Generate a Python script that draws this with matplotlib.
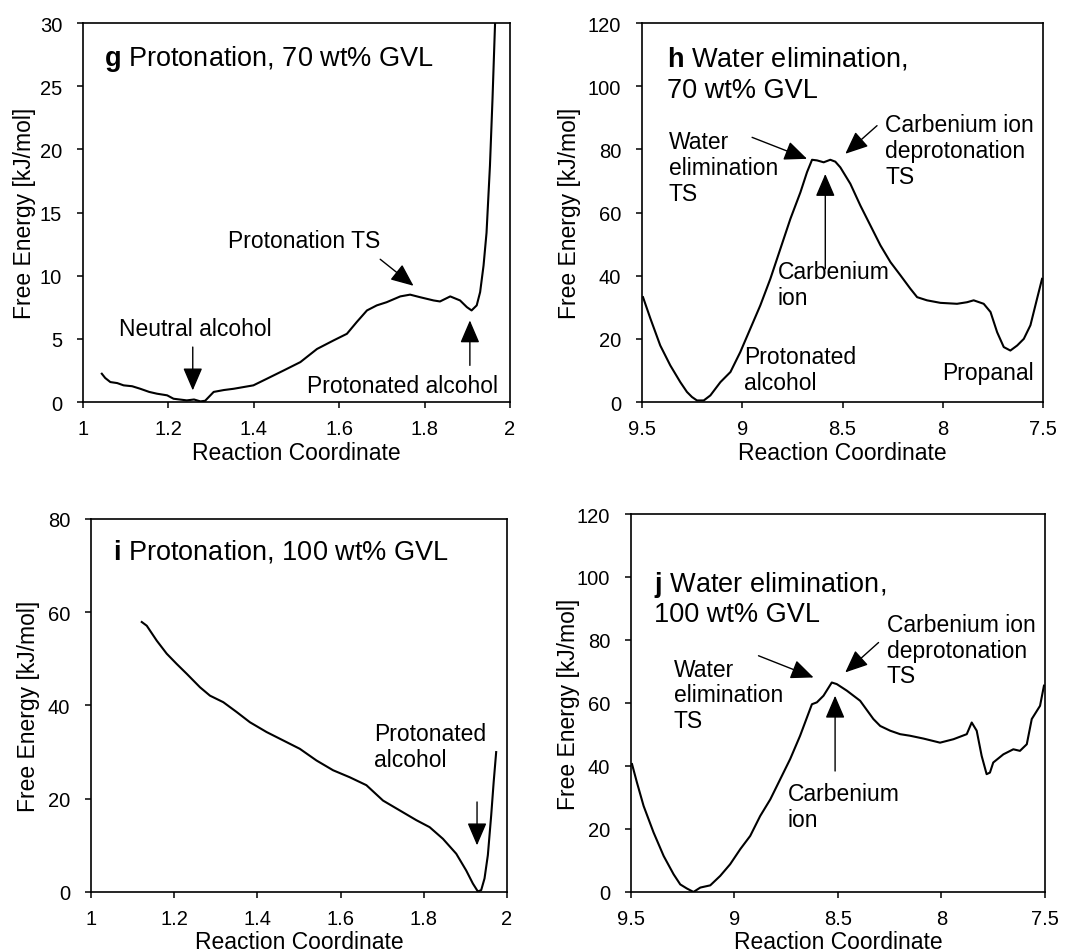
import matplotlib
matplotlib.use("Agg")
import matplotlib.pyplot as plt

plt.rcParams['font.family'] = ['Liberation Sans', 'DejaVu Sans']
plt.rcParams['mathtext.fontset'] = 'custom'
plt.rcParams['mathtext.rm'] = 'Liberation Sans'
plt.rcParams['mathtext.bf'] = 'Liberation Sans:bold'

# panel g: protonation, 70 wt% GVL
g_x = [1.044, 1.052, 1.064, 1.08, 1.095, 1.115, 1.134, 1.155, 1.173, 1.197, 1.212, 1.243, 1.26,
       1.275, 1.286, 1.306, 1.33, 1.353, 1.399, 1.431, 1.47, 1.509, 1.548, 1.587, 1.618,
       1.641, 1.665, 1.688, 1.711, 1.743, 1.766, 1.789, 1.821, 1.836, 1.86, 1.883, 1.899,
       1.91, 1.922, 1.93, 1.938, 1.945, 1.953, 1.959, 1.965, 1.968]
g_y = [2.24, 1.9, 1.58, 1.5, 1.32, 1.25, 1.05, 0.8, 0.66, 0.53, 0.26, 0.13, 0.2,
       0.05, 0.1, 0.8, 0.95, 1.05, 1.32, 1.85, 2.5, 3.16, 4.2, 4.88, 5.4,
       6.33, 7.25, 7.65, 7.9, 8.36, 8.5, 8.3, 8.04, 7.96, 8.36, 8.04, 7.51,
       7.25, 7.65, 8.7, 10.8, 13.4, 18.7, 24.0, 30.0, 35.0]

# panel h: water elimination, 70 wt% GVL
h_x = [9.495, 9.458, 9.409, 9.359, 9.309, 9.276, 9.251, 9.226, 9.192, 9.159, 9.109, 9.059,
       9.01, 8.96, 8.91, 8.86, 8.81, 8.76, 8.71, 8.677, 8.652, 8.627, 8.594, 8.561,
       8.536, 8.511, 8.461, 8.411, 8.361, 8.311, 8.261, 8.211, 8.162, 8.128, 8.079, 8.012,
       7.929, 7.879, 7.846, 7.796, 7.762, 7.729, 7.696, 7.663, 7.629, 7.596, 7.563, 7.53, 7.505]
h_y = [33.2, 26.4, 17.9, 11.6, 6.3, 3.2, 1.6, 0.5, 0.5, 2.1, 6.3, 9.5,
       15.8, 23.2, 30.6, 39.0, 48.5, 58.0, 66.4, 72.8, 76.7, 76.5, 75.9, 76.7,
       76.1, 74.3, 69.1, 62.2, 55.9, 49.6, 44.3, 40.1, 35.9, 33.2, 32.2, 31.4,
       31.1, 31.6, 32.2, 31.1, 28.5, 22.1, 17.4, 16.3, 17.9, 20.0, 24.3, 32.7, 39.0]

# panel i: protonation, 100 wt% GVL
i_x = [1.122, 1.134, 1.158, 1.182, 1.206, 1.23, 1.262, 1.286, 1.318, 1.35, 1.382, 1.422,
       1.462, 1.502, 1.542, 1.582, 1.622, 1.662, 1.702, 1.742, 1.782, 1.814, 1.846, 1.878,
       1.902, 1.918, 1.93, 1.938, 1.946, 1.954, 1.962, 1.968, 1.974]
i_y = [57.9, 57.1, 53.9, 51.1, 48.9, 46.8, 43.9, 42.1, 40.7, 38.6, 36.4, 34.3,
       32.5, 30.7, 28.2, 26.1, 24.6, 22.9, 19.6, 17.5, 15.4, 13.9, 11.4, 8.2,
       4.6, 1.8, 0.1, 0.4, 2.9, 7.9, 16.4, 23.6, 30.0]

# panel j: water elimination, 100 wt% GVL
j_x = [9.495, 9.471, 9.439, 9.391, 9.342, 9.294, 9.262, 9.23, 9.198, 9.165, 9.117, 9.069,
       9.021, 8.972, 8.924, 8.876, 8.827, 8.779, 8.731, 8.683, 8.626, 8.602, 8.57, 8.53,
       8.506, 8.457, 8.393, 8.329, 8.296, 8.248, 8.2, 8.152, 8.087, 8.007, 7.942, 7.878,
       7.854, 7.83, 7.806, 7.782, 7.766, 7.75, 7.701, 7.653, 7.621, 7.588, 7.564, 7.524, 7.505]
j_y = [40.6, 34.7, 27.3, 18.9, 11.4, 5.6, 2.4, 1.1, 0.0, 1.4, 2.1, 5.1,
       8.8, 13.6, 17.8, 24.1, 29.4, 35.8, 42.2, 49.6, 59.6, 60.2, 62.3, 66.5,
       66.0, 63.9, 60.7, 54.9, 52.7, 51.2, 50.1, 49.6, 48.7, 47.4, 48.5, 50.1,
       53.8, 51.2, 43.2, 37.4, 37.9, 41.1, 43.7, 45.3, 44.8, 46.9, 54.9, 59.1, 65.5]

prot_ticks = [1, 1.2, 1.4, 1.6, 1.8, 2]
prot_labels = ['1', '1.2', '1.4', '1.6', '1.8', '2']
elim_ticks = [9.5, 9, 8.5, 8, 7.5]
elim_labels = ['9.5', '9', '8.5', '8', '7.5']

TICK = 14.5
LAB = 16.5
ANN = 16.5
TITLE = 19.5
LS = 1.15

fig = plt.figure(figsize=(10.81, 9.53), dpi=100)
ax_g = fig.add_axes([0.0768, 0.5771, 0.395, 0.3977])
ax_h = fig.add_axes([0.5939, 0.5771, 0.371, 0.3977])
ax_i = fig.add_axes([0.0842, 0.0630, 0.3848, 0.3914])
ax_j = fig.add_axes([0.5837, 0.0630, 0.383, 0.3966])


def style(ax, xt, xl, ylim, ystep, xlim, ylab_x, xlab_y):
    ax.set_xlim(*xlim)
    ax.set_ylim(*ylim)
    ax.set_xticks(xt)
    ax.set_xticklabels(xl)
    yt = list(range(ylim[0], ylim[1] + 1, ystep))
    ax.set_yticks(yt)
    ax.set_yticklabels([str(v) for v in yt])
    ax.tick_params(direction='out', length=4, width=1.1, labelsize=TICK, colors='black')
    ax.tick_params(axis='x', pad=8.5)
    ax.tick_params(axis='y', pad=11)
    for s in ax.spines.values():
        s.set_linewidth(1.2)
    ax.set_xlabel('Reaction Coordinate', fontsize=LAB, va='center')
    ax.set_ylabel('Free Energy [kJ/mol]', fontsize=LAB, va='center')
    ax.xaxis.set_label_coords(0.5, xlab_y)
    ax.yaxis.set_label_coords(ylab_x, 0.5)


def arrow(ax, tail, head):
    ax.annotate('', xy=head, xytext=tail,
                arrowprops=dict(arrowstyle='-|>,head_length=0.7,head_width=0.3',
                                color='black', lw=1.0, mutation_scale=20,
                                shrinkA=0, shrinkB=0))


# g
ax_g.plot(g_x, g_y, color='black', lw=1.5)
style(ax_g, prot_ticks, prot_labels, (0, 30), 5, (1, 2), -0.138, -0.134)
ax_g.text(1.048, 27.2, r'$\mathbf{g}$ Protonation, 70 wt% GVL', fontsize=TITLE, va='center')
ax_g.text(1.264, 5.8, 'Neutral alcohol', fontsize=ANN, ha='center', va='center')
arrow(ax_g, (1.257, 4.35), (1.257, 0.92))
ax_g.text(1.696, 12.8, 'Protonation TS', fontsize=ANN, ha='right', va='center')
arrow(ax_g, (1.696, 11.3), (1.774, 9.2))
ax_g.text(1.748, 1.32, 'Protonated alcohol', fontsize=ANN, ha='center', va='center')
arrow(ax_g, (1.906, 2.9), (1.906, 6.46))

# h
ax_h.plot(h_x, h_y, color='black', lw=1.5)
style(ax_h, elim_ticks, elim_labels, (0, 120), 20, (9.5, 7.5), -0.18, -0.134)
ax_h.text(9.375, 108.8, r'$\mathbf{h}$ Water elimination,', fontsize=TITLE, va='center')
ax_h.text(9.375, 98.9, '70 wt% GVL', fontsize=TITLE, va='center')
ax_h.text(9.367, 74.3, 'Water\nelimination\nTS', fontsize=ANN, va='center', linespacing=LS)
arrow(ax_h, (8.951, 83.8), (8.677, 77.0))
ax_h.text(8.286, 79.6, 'Carbenium ion\ndeprotonation\nTS', fontsize=ANN, va='center', linespacing=LS)
arrow(ax_h, (8.328, 87.5), (8.486, 78.6))
ax_h.text(8.823, 37.2, 'Carbenium\nion', fontsize=ANN, va='center', linespacing=LS)
arrow(ax_h, (8.586, 42.2), (8.586, 72.2))
ax_h.text(8.993, 10.3, 'Protonated\nalcohol', fontsize=ANN, va='center', linespacing=LS)
ax_h.text(8.004, 9.5, 'Propanal', fontsize=ANN, va='center')

# i
ax_i.plot(i_x, i_y, color='black', lw=1.5)
style(ax_i, prot_ticks, prot_labels, (0, 80), 20, (1, 2), -0.151, -0.132)
ax_i.text(1.054, 73.2, r'$\mathbf{i}$ Protonation, 100 wt% GVL', fontsize=TITLE, va='center')
ax_i.text(1.68, 31.25, 'Protonated\nalcohol', fontsize=ANN, va='center', linespacing=LS)
arrow(ax_i, (1.928, 19.3), (1.928, 10.0))

# j
ax_j.plot(j_x, j_y, color='black', lw=1.5)
style(ax_j, elim_ticks, elim_labels, (0, 120), 20, (9.5, 7.5), -0.152, -0.13)
ax_j.text(9.391, 97.8, r'$\mathbf{j}$ Water elimination,', fontsize=TITLE, va='center')
ax_j.text(9.391, 88.3, '100 wt% GVL', fontsize=TITLE, va='center')
ax_j.text(9.294, 62.6, 'Water\nelimination\nTS', fontsize=ANN, va='center', linespacing=LS)
arrow(ax_j, (8.884, 75.0), (8.618, 68.1))
ax_j.text(8.264, 76.8, 'Carbenium ion\ndeprotonation\nTS', fontsize=ANN, va='center', linespacing=LS)
arrow(ax_j, (8.304, 79.2), (8.465, 69.7))
ax_j.text(8.744, 27.1, 'Carbenium\nion', fontsize=ANN, va='center', linespacing=LS)
arrow(ax_j, (8.514, 38.4), (8.514, 62.3))

fig.savefig('out.png', dpi=100)
